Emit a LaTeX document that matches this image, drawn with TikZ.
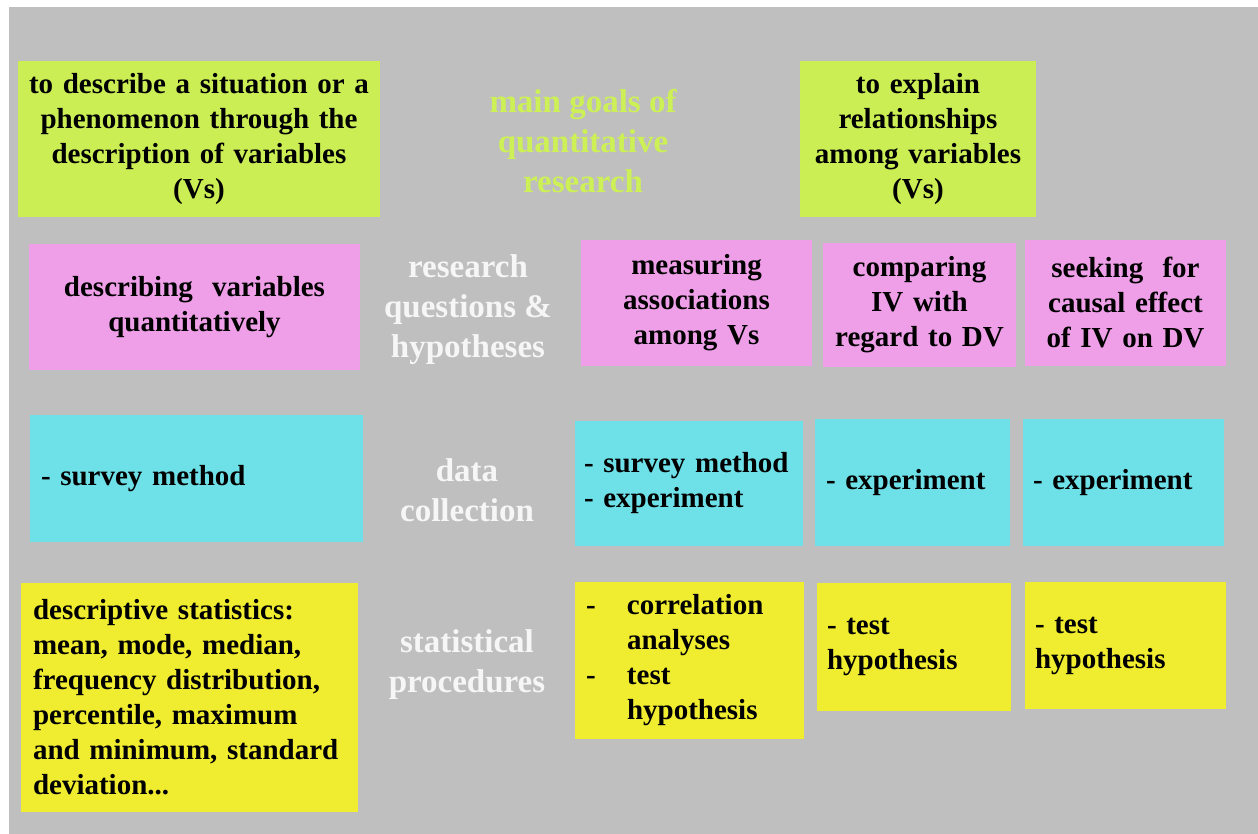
\documentclass[tikz,border=0pt]{standalone}
\usepackage{fontspec}
\setmainfont{Liberation Serif}[BoldFont={Liberation Serif Bold}]
\definecolor{bggray}{HTML}{BFBFBF}
\definecolor{lgreen}{HTML}{CCEE55}
\definecolor{tgreen}{HTML}{CCF055}
\definecolor{lpink}{HTML}{EE9FE8}
\definecolor{lcyan}{HTML}{6EE0E8}
\definecolor{lyellow}{HTML}{F0EC30}
\definecolor{lwhite}{HTML}{F6F6F6}
\tikzset{
  boxbase/.style={rectangle, inner ysep=0pt, font=\fontsize{29}{35}\selectfont\bfseries, text=black},
  cbox/.style n args={3}{boxbase, fill=#1, minimum width=#2, minimum height=#3, inner xsep=8pt, text width=#2-16pt, align=center},
  lbox/.style n args={4}{boxbase, fill=#1, minimum width=#2, minimum height=#3, inner xsep=#4, text width=#2-2*#4, align=left},
  rowlabel/.style={font=\fontsize{33}{40}\selectfont\bfseries, text=lwhite, align=center, inner sep=0pt},
}
\begin{document}
\begin{tikzpicture}[x=1pt,y=-1pt]
\fill[white] (0,0) rectangle (1258,834);
\fill[bggray] (9,7) rectangle (1258,834);
\useasboundingbox (0,0) rectangle (1258,834);

% row 1
\node[cbox={lgreen}{362pt}{156pt}] (g1) at (199,139) {to describe a situation or a\\phenomenon through the\\description of variables\\(Vs)};
\node[rowlabel, text=tgreen] (title) at (583,141) {main goals of\\quantitative\\research};
\node[cbox={lgreen}{236pt}{156pt}] (g2) at (918,139) {to explain\\relationships\\among variables\\(Vs)};

% row 2
\node[cbox={lpink}{331pt}{126pt}] (p1) at (194.5,307) {describing\ \ variables\\quantitatively};
\node[rowlabel] (lab2) at (468,310) {research\\questions \&\\hypotheses};
\node[cbox={lpink}{231pt}{126pt}] (p2) at (696.5,303) {measuring\\associations\\among Vs};
\node[cbox={lpink}{193pt}{124pt}] (p3) at (919.5,305) {comparing\\IV with\\regard to DV};
\node[cbox={lpink}{201pt}{126pt}] (p4) at (1125.5,303) {seeking\ \ for\\causal effect\\of IV on DV};

% row 3
\node[lbox={lcyan}{333pt}{127pt}{11pt}] (c1) at (196.5,478.5) {- survey method};
\node[rowlabel] (lab3) at (467,490) {data\\collection};
\node[lbox={lcyan}{228pt}{125pt}{9pt}] (c2) at (689,483.5) {- survey method\\- experiment};
\node[lbox={lcyan}{195pt}{127pt}{11pt}] (c3) at (912.5,482.5) {- experiment};
\node[lbox={lcyan}{201pt}{127pt}{10pt}] (c4) at (1123.5,482.5) {- experiment};

% row 4
\node[lbox={lyellow}{337pt}{229pt}{12pt}] (y1) at (189.5,697.5) {descriptive statistics:\\mean, mode, median,\\frequency distribution,\\percentile, maximum\\and minimum, standard\\deviation...};
\node[rowlabel] (lab4) at (467,665) {statistical\\procedures};
\node[lbox={lyellow}{229pt}{157pt}{11pt}] (y2) at (689.5,660.5) {\makebox[41pt][l]{-}correlation\\\hspace*{41pt}analyses\\\makebox[41pt][l]{-}test\\\hspace*{41pt}hypothesis};
\node[lbox={lyellow}{194pt}{128pt}{10pt}] (y3) at (914,647) {- test\\hypothesis};
\node[lbox={lyellow}{201pt}{127pt}{10pt}] (y4) at (1125.5,645.5) {- test\\hypothesis};
\end{tikzpicture}
\end{document}
